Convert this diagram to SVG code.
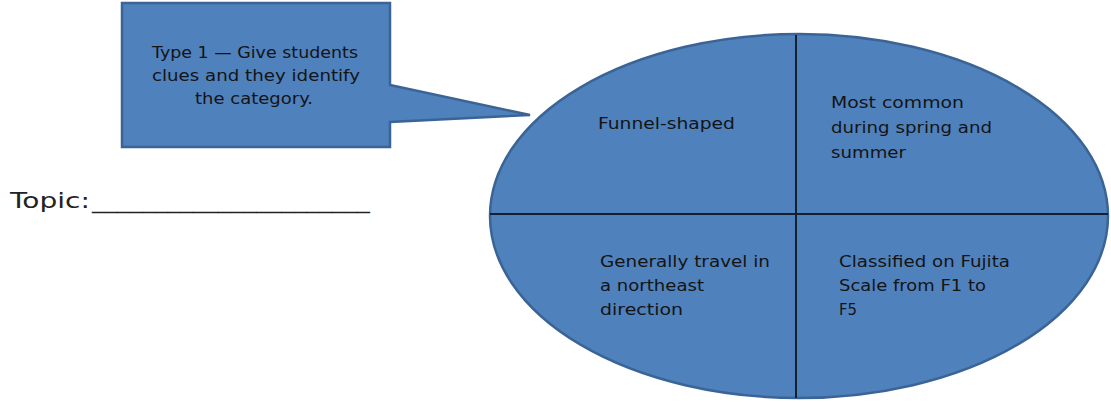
<svg xmlns="http://www.w3.org/2000/svg" width="1111" height="402" viewBox="0 0 1111 402">
<style>
.shape{fill:#4f81bd;stroke:#3b6496;stroke-width:2.5}
.t{font-family:"DejaVu Sans","Liberation Sans",sans-serif;font-size:16.5px;fill:#141414}
.div{stroke:#15202e;stroke-width:2;fill:none}
.topic{font-family:"DejaVu Sans","Liberation Sans",sans-serif;font-size:22px;fill:#222}
</style>
<rect width="1111" height="402" fill="#ffffff"/>
<g id="topic">
<text class="topic" x="10" y="208" textLength="80" lengthAdjust="spacingAndGlyphs">Topic:</text>
<text class="topic" x="92" y="208" textLength="278" lengthAdjust="spacingAndGlyphs">______________________</text>
</g>
<g id="ellipse">
<ellipse class="shape" cx="799" cy="216" rx="309" ry="182"/>
</g>
<g id="connectors">
<line class="div" x1="490" y1="214" x2="1108" y2="214"/>
<line class="div" x1="796" y1="35" x2="796" y2="398"/>
</g>
<g id="callout">
<path class="shape" d="M122,3 H390 V85 L530,115 L390,122 V147 H122 Z"/>
<text class="t" x="255" y="58" text-anchor="middle" textLength="206" lengthAdjust="spacingAndGlyphs">Type 1 — Give students</text>
<text class="t" x="256" y="81" text-anchor="middle" textLength="208" lengthAdjust="spacingAndGlyphs">clues and they identify</text>
<text class="t" x="254" y="104" text-anchor="middle" textLength="118" lengthAdjust="spacingAndGlyphs">the category.</text>
</g>
<g id="q1">
<text class="t" x="598" y="129" textLength="137" lengthAdjust="spacingAndGlyphs">Funnel-shaped</text>
</g>
<g id="q2">
<text class="t" x="831" y="108" textLength="133" lengthAdjust="spacingAndGlyphs">Most common</text>
<text class="t" x="831" y="133" textLength="161" lengthAdjust="spacingAndGlyphs">during spring and</text>
<text class="t" x="831" y="158" textLength="75" lengthAdjust="spacingAndGlyphs">summer</text>
</g>
<g id="q3">
<text class="t" x="600" y="267" textLength="170" lengthAdjust="spacingAndGlyphs">Generally travel in</text>
<text class="t" x="600" y="291" textLength="104" lengthAdjust="spacingAndGlyphs">a northeast</text>
<text class="t" x="600" y="315" textLength="83" lengthAdjust="spacingAndGlyphs">direction</text>
</g>
<g id="q4">
<text class="t" x="839" y="267" textLength="171" lengthAdjust="spacingAndGlyphs">Classified on Fujita</text>
<text class="t" x="839" y="291" textLength="147" lengthAdjust="spacingAndGlyphs">Scale from F1 to</text>
<text class="t" x="839" y="315" textLength="18" lengthAdjust="spacingAndGlyphs">F5</text>
</g>
</svg>
